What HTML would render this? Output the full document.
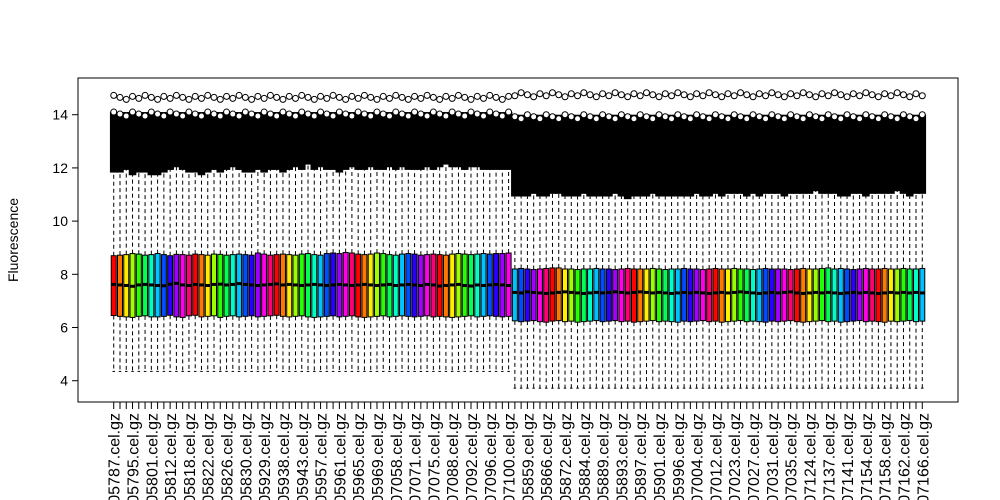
<!DOCTYPE html>
<html><head><meta charset="utf-8"><style>
html,body{margin:0;padding:0;background:#fff;width:1000px;height:500px;overflow:hidden;}
svg{display:block;font-family:"Liberation Sans",Arial,sans-serif;}
</style></head><body>
<svg id="chart" width="1000" height="500" viewBox="0 0 1000 500"></svg>
<script>
// ---- data ----
const groupSizes = [64, 66];
const med1 = [7.62,7.60,7.58,7.55,7.60,7.62,7.60,7.58,7.57,7.63,
7.66,7.60,7.58,7.62,7.60,7.58,7.62,7.63,7.60,7.62,
7.65,7.62,7.60,7.58,7.60,7.62,7.64,7.60,7.62,7.60,
7.58,7.60,7.62,7.60,7.58,7.60,7.62,7.60,7.58,7.60,
7.62,7.60,7.58,7.60,7.62,7.58,7.60,7.62,7.60,7.58,
7.62,7.60,7.56,7.58,7.60,7.62,7.58,7.56,7.60,7.58,
7.60,7.62,7.60,7.58];
const med2 = [7.32,7.30,7.34,7.32,7.30,7.28,7.30,7.32,7.34,7.32,
7.30,7.28,7.30,7.32,7.30,7.32,7.34,7.32,7.30,7.32,
7.34,7.32,7.30,7.32,7.30,7.28,7.30,7.32,7.30,7.32,
7.30,7.28,7.30,7.32,7.30,7.32,7.34,7.32,7.30,7.28,
7.30,7.32,7.30,7.32,7.34,7.30,7.28,7.30,7.32,7.30,
7.32,7.30,7.28,7.30,7.32,7.30,7.32,7.30,7.28,7.30,
7.32,7.30,7.32,7.30,7.32,7.30];
const q3v1 = [8.70,8.72,8.74,8.78,8.76,8.72,8.74,8.78,8.74,8.70,
8.75,8.74,8.72,8.76,8.74,8.72,8.76,8.75,8.72,8.74,
8.76,8.74,8.72,8.80,8.76,8.72,8.74,8.76,8.74,8.72,
8.76,8.78,8.74,8.72,8.78,8.80,8.78,8.82,8.80,8.76,
8.74,8.76,8.80,8.78,8.74,8.72,8.76,8.78,8.76,8.72,
8.74,8.76,8.74,8.72,8.76,8.78,8.76,8.74,8.76,8.78,
8.76,8.78,8.78,8.80];
const q3v2 = [8.20,8.22,8.20,8.18,8.20,8.22,8.24,8.24,8.20,8.20,
8.18,8.20,8.20,8.22,8.20,8.20,8.18,8.20,8.22,8.20,
8.20,8.20,8.22,8.20,8.18,8.20,8.20,8.22,8.20,8.20,
8.18,8.20,8.22,8.20,8.20,8.22,8.20,8.20,8.18,8.20,
8.22,8.20,8.20,8.20,8.18,8.20,8.22,8.20,8.20,8.22,
8.24,8.20,8.22,8.20,8.18,8.20,8.22,8.20,8.20,8.22,
8.20,8.20,8.22,8.20,8.20,8.22];
const q1v1 = [6.45,6.42,6.40,6.38,6.42,6.44,6.40,6.40,6.42,6.46,
6.40,6.38,6.44,6.46,6.40,6.42,6.44,6.38,6.42,6.44,
6.40,6.42,6.44,6.40,6.42,6.44,6.46,6.42,6.40,6.42,
6.44,6.40,6.38,6.40,6.42,6.44,6.40,6.42,6.44,6.40,
6.38,6.40,6.42,6.44,6.40,6.42,6.44,6.42,6.40,6.42,
6.44,6.40,6.42,6.40,6.38,6.40,6.42,6.44,6.40,6.42,
6.44,6.42,6.40,6.42];
const q1v2 = [6.25,6.22,6.24,6.26,6.22,6.20,6.24,6.26,6.22,6.24,
6.20,6.22,6.24,6.26,6.22,6.24,6.26,6.22,6.24,6.20,
6.22,6.24,6.26,6.22,6.24,6.22,6.20,6.24,6.22,6.24,
6.26,6.22,6.24,6.20,6.22,6.24,6.26,6.22,6.24,6.22,
6.20,6.24,6.22,6.24,6.26,6.22,6.20,6.22,6.24,6.26,
6.22,6.24,6.20,6.22,6.24,6.26,6.22,6.24,6.22,6.20,
6.24,6.22,6.24,6.26,6.22,6.24];
const lo1 = 4.35, lo2 = 3.72;
const hi1 = [11.9,11.9,12.0,11.8,11.9,11.9,11.8,11.8,11.9,12.0,
12.1,12.0,11.9,11.9,11.8,11.9,12.0,11.9,12.0,12.1,
12.0,11.9,11.9,12.0,11.9,12.0,12.0,11.9,12.0,12.1,
12.0,12.2,12.0,12.1,12.0,12.0,11.9,12.0,12.1,12.0,
12.0,12.1,12.0,12.0,12.1,12.0,12.1,12.0,12.0,12.0,
12.1,12.0,12.1,12.2,12.1,12.1,12.0,12.1,12.1,12.0,
12.0,12.0,12.0,12.0];
const hi2 = [11.0,11.0,11.0,11.1,11.0,11.0,11.1,11.1,11.0,11.0,
11.0,11.1,11.0,11.0,11.0,11.0,11.1,11.0,10.9,11.0,
11.0,11.0,11.1,11.0,11.0,11.0,11.0,11.0,11.0,11.1,
11.0,11.0,11.1,11.0,11.1,11.1,11.1,11.0,11.1,11.0,
11.1,11.1,11.1,11.0,11.1,11.1,11.1,11.1,11.2,11.1,
11.1,11.1,11.0,11.0,11.1,11.1,11.0,11.1,11.1,11.1,
11.1,11.2,11.1,11.0,11.1,11.1];
const outTop1 = 14.1, outTop2 = 14.0;
const outMax1 = 14.65, outMax2 = 14.75;
const labels = ["5787","5795","5801","5812","5818","5822","5826","5830","5929","5938","5943","5957","5961","5965","5969","7058","7071","7075","7088","7092","7096","7100","5859","5866","5872","5884","5889","5893","5897","5901","5996","7004","7012","7023","7027","7031","7035","7124","7137","7141","7154","7158","7162","7166"];
const yTicks = [4,6,8,10,12,14];

// ---- layout ----
const svg = document.getElementById('chart');
const NS = 'http://www.w3.org/2000/svg';
const P = {l:78, r:958, t:78, b:402};
const med = med1.concat(med2), q3 = q3v1.concat(q3v2), q1 = q1v1.concat(q1v2), hi = hi1.concat(hi2);
const n = med.length;
const xmin = 0.5 - 0.04*n, xmax = n + 0.5 + 0.04*n;
const X = v => P.l + (v - xmin)/(xmax - xmin)*(P.r - P.l);
const ymin = 3.2, ymax = 15.38;
const Y = v => P.b - (v - ymin)/(ymax - ymin)*(P.b - P.t);
const bw = (X(1)-X(0))*0.8;
function mk(tag, attrs){const e=document.createElementNS(NS,tag);for(const k in attrs)e.setAttribute(k,attrs[k]);svg.appendChild(e);return e;}

for(let i=0;i<n;i++){
  const g = i < groupSizes[0] ? 0 : 1;
  const cx = X(i+1);
  const lo = g ? lo2 : lo1, top = g ? outTop2 : outTop1, mx = g ? outMax2 : outMax1;
  const hue = ((g? i+8 : i)*27.7) % 360;
  const w1 = mk('line',{x1:cx,x2:cx,y1:Y(q3[i]),y2:Y(hi[i]),stroke:'#000','stroke-dasharray':'4,3','stroke-width':1});
  
  
  const w2 = mk('line',{x1:cx,x2:cx,y1:Y(q1[i]),y2:Y(lo),stroke:'#000','stroke-dasharray':'4,3','stroke-width':1});
  
  
  const cap = mk('line',{x1:cx-bw/4,x2:cx+bw/4,y1:Y(lo),y2:Y(lo),stroke:'#000','stroke-width':1});
  
  
  const out = mk('rect',{x:cx-3.8,y:Y(top),width:7.6,height:Y(hi[i])-Y(top)+2,fill:'#000'});
  
  
  const c1 = mk('circle',{cx:cx,cy:Y(top)+(i%3)*2,r:3,fill:'#fff',stroke:'#000','stroke-width':1});
  
  
  const c2 = mk('circle',{cx:cx,cy:Y(mx)+((i*7)%5)-2,r:3,fill:'none',stroke:'#000','stroke-width':1});
  
  
  const box = mk('rect',{x:cx-bw/2,y:Y(q3[i]),width:bw,height:Y(q1[i])-Y(q3[i]),fill:`hsl(${hue},100%,50%)`,stroke:'#000','stroke-width':1});
  
  
  const m = mk('line',{x1:cx-bw/2,x2:cx+bw/2,y1:Y(med[i]),y2:Y(med[i]),stroke:'#000','stroke-width':3});
  
  
  const t = mk('line',{x1:cx,x2:cx,y1:P.b,y2:P.b+7,stroke:'#000','stroke-width':1});
  
  
}
for(let j=0;j<labels.length;j++){
  const cx = X(j*3+1)+6;
  const tx = mk('text',{x:0,y:0,transform:`translate(${cx},${P.b+11}) rotate(-90)`,'text-anchor':'end','font-size':16,fill:'#000'});
  tx.textContent = 'GSM100'+labels[j]+'.cel.gz';
  
  
}
for(const v of yTicks){
  const t = mk('line',{x1:P.l-6,x2:P.l,y1:Y(v),y2:Y(v),stroke:'#000'});
  
  
  const tx = mk('text',{x:P.l-10,y:Y(v)+5,'text-anchor':'end','font-size':14,fill:'#000'});
  tx.textContent = v;
  
  
}
const frame = mk('rect',{x:P.l,y:P.t,width:P.r-P.l,height:P.b-P.t,fill:'none',stroke:'#000','stroke-width':1});


const yt = mk('text',{x:0,y:0,transform:`translate(18,${(P.t+P.b)/2}) rotate(-90)`,'text-anchor':'middle','font-size':14,fill:'#000'});
yt.textContent='Fluorescence';


</script>
</body></html>
